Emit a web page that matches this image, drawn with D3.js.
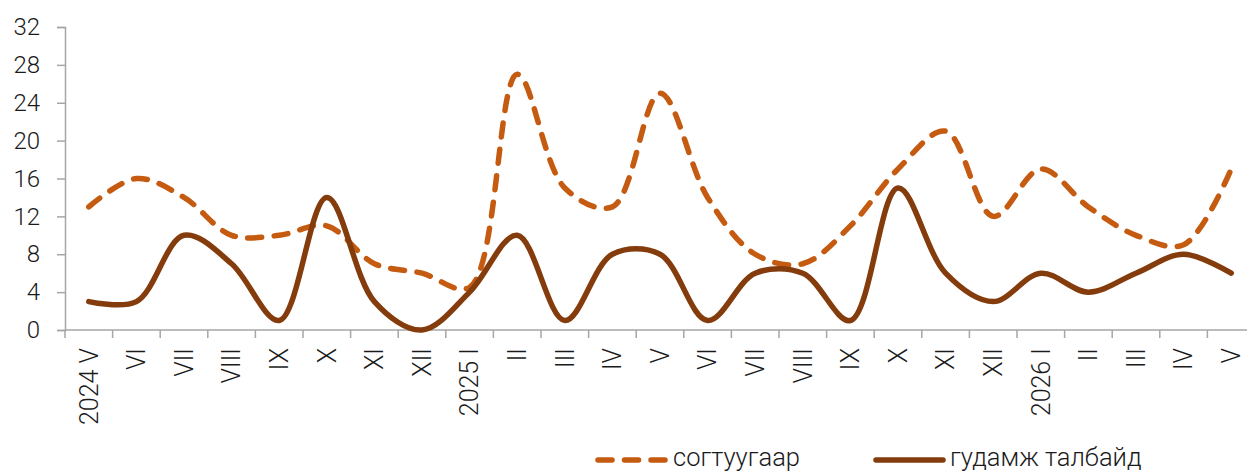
<!DOCTYPE html>
<html>
<head>
<meta charset="utf-8">
<script src="https://cdn.jsdelivr.net/npm/d3@7/dist/d3.min.js"></script>
<style>
  html, body { margin: 0; padding: 0; background: #fff; }
  svg { display: block; }
  text { font-family: Roboto, "Noto Sans", sans-serif; font-weight: 300; fill: #1a1a1a; }
</style>
</head>
<body>
<svg id="chart" width="1247" height="472"></svg>
<script>
const categories = ["2024 V","VI","VII","VIII","IX","X","XI","XII","2025 I","II","III","IV","V","VI","VII","VIII","IX","X","XI","XII","2026 I","II","III","IV","V"];
const drunkValues  = [13,16,14,10,10,11,7,6,4.5,27,15,13,25,14,8,7,11,17,21,12,17,13,10,9,17];
const streetValues = [3,3,10,7,1,14,3,0,4,10,1,8,8,1,6,6,1,15,6,3,6,4,6,8,6];
const seriesNames = ["согтуугаар", "гудамж талбайд"];
const yTicks = [0,4,8,12,16,20,24,28,32];

const svg = d3.select("#chart");
const axisColor = "#a6a6a6";
const drunkColor = "#c55a11";
const streetColor = "#843c0c";

const x = d3.scaleBand().domain(d3.range(categories.length)).range([65, 1255]).padding(0);
const y = d3.scaleLinear().domain([0, 32]).range([330, 27]);
const cx = i => x(i) + x.bandwidth() / 2;

// Y axis
const yAxis = d3.axisLeft(y).tickValues(yTicks).tickSize(8).tickPadding(17);
const gy = svg.append("g").attr("transform", "translate(65,0)").call(yAxis);
gy.select(".domain").attr("stroke", axisColor).attr("stroke-width", 1.5);
gy.selectAll(".tick line").attr("stroke", axisColor).attr("stroke-width", 1.5);
gy.selectAll(".tick text").style("font-size", "24px").attr("fill", "#1a1a1a")
  .style("font-family", "Roboto, sans-serif").style("font-weight", 300);

// X axis
const gx = svg.append("g");
gx.append("line").attr("x1", x.range()[0]).attr("x2", x.range()[1])
  .attr("y1", y(0)).attr("y2", y(0)).attr("stroke", axisColor).attr("stroke-width", 1.5);
const boundaries = categories.map((c, i) => x(i)).concat([x.range()[1]]);
gx.selectAll("line.tk").data(boundaries).enter().append("line").attr("class", "tk")
  .attr("x1", d => d).attr("x2", d => d).attr("y1", y(0)).attr("y2", y(0) + 8)
  .attr("stroke", axisColor).attr("stroke-width", 1.5);
gx.selectAll("text.xl").data(categories).enter().append("text").attr("class", "xl")
  .attr("transform", (d, i) => `translate(${cx(i)},${y(0) + 18}) rotate(-90)`)
  .attr("text-anchor", "end").attr("dy", "0.35em")
  .style("font-size", "25px")
  .text(d => d);

// Lines
const line = d3.line().x((d, i) => cx(i)).y(d => y(d)).curve(d3.curveCatmullRom.alpha(0.5));

svg.append("path").datum(drunkValues).attr("d", line)
  .attr("fill", "none").attr("stroke", drunkColor).attr("stroke-width", 5.5)
  .attr("stroke-dasharray", "14 12.5").attr("stroke-linecap", "round");

svg.append("path").datum(streetValues).attr("d", line)
  .attr("fill", "none").attr("stroke", streetColor).attr("stroke-width", 5.5)
  .attr("stroke-linecap", "round");

// Legend
const lg = svg.append("g");
const ly = 460;
lg.append("line").attr("x1", 598).attr("x2", 665).attr("y1", ly).attr("y2", ly)
  .attr("stroke", drunkColor).attr("stroke-width", 5.5)
  .attr("stroke-dasharray", "14 12.5").attr("stroke-linecap", "round");
lg.append("text").attr("x", 673).attr("y", 466)
  .style("font-size", "25.5px").text(seriesNames[0]);
lg.append("line").attr("x1", 876).attr("x2", 943).attr("y1", ly).attr("y2", ly)
  .attr("stroke", streetColor).attr("stroke-width", 5.5).attr("stroke-linecap", "round");
lg.append("text").attr("x", 950).attr("y", 466)
  .style("font-size", "25.5px").text(seriesNames[1]);
</script>
</body>
</html>
